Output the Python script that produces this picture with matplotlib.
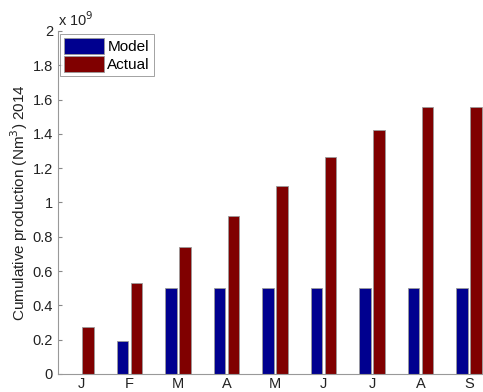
import matplotlib.pyplot as plt
import numpy as np
from matplotlib.ticker import FormatStrFormatter

plt.rcParams['font.family'] = ['Liberation Sans', 'DejaVu Sans']

# cumulative production, units of 1e9 Nm^3
months = ['J', 'F', 'M', 'A', 'M', 'J', 'J', 'A', 'S']
model = [0.0, 0.19, 0.5, 0.5, 0.5, 0.5, 0.5, 0.5, 0.5]
actual = [0.272, 0.529, 0.74, 0.92, 1.098, 1.264, 1.423, 1.557, 1.557]

x = np.arange(len(months))
w = 0.24
off = 0.145

fig = plt.figure(figsize=(4.83, 3.92), dpi=100)
ax = fig.add_axes([0.12, 0.046, 0.88, 0.875])

ax.bar(x - off, model, w, color='#00008f', edgecolor='#9a9a9a', linewidth=0.6, label='Model')
ax.bar(x + off, actual, w, color='#800000', edgecolor='#9a9a9a', linewidth=0.6, label='Actual')

ax.set_xlim(-0.474, 8.29)
ax.set_ylim(0, 2)
ax.set_xticks(x)
ax.set_xticklabels(months)
ax.set_yticks(np.arange(0, 2.01, 0.2))
ax.yaxis.set_major_formatter(FormatStrFormatter('%g'))
ax.tick_params(direction='in', length=3, colors='#888888', labelcolor='#222222', labelsize=10.5)
ax.tick_params(axis='x', length=0, pad=2)

for s in ['top', 'right']:
    ax.spines[s].set_visible(False)
for s in ['left', 'bottom']:
    ax.spines[s].set_color('#999999')

ax.set_ylabel('Cumulative production (Nm$^3$) 2014', fontsize=11, color='#222222', labelpad=2)
ax.text(0.0, 1.005, r'x 10$^9$', transform=ax.transAxes, fontsize=10.5, color='#222222',
        ha='left', va='bottom')

leg = ax.legend(loc='upper left', bbox_to_anchor=(0.005, 0.99), fontsize=11, frameon=True,
                fancybox=False, handlelength=2.6, handleheight=1.2, handletextpad=0.25,
                borderpad=0.25, labelspacing=0.15, borderaxespad=0)
leg.get_frame().set_edgecolor('#777777')
leg.get_frame().set_linewidth(0.6)

fig.savefig('out.png', dpi=100)
